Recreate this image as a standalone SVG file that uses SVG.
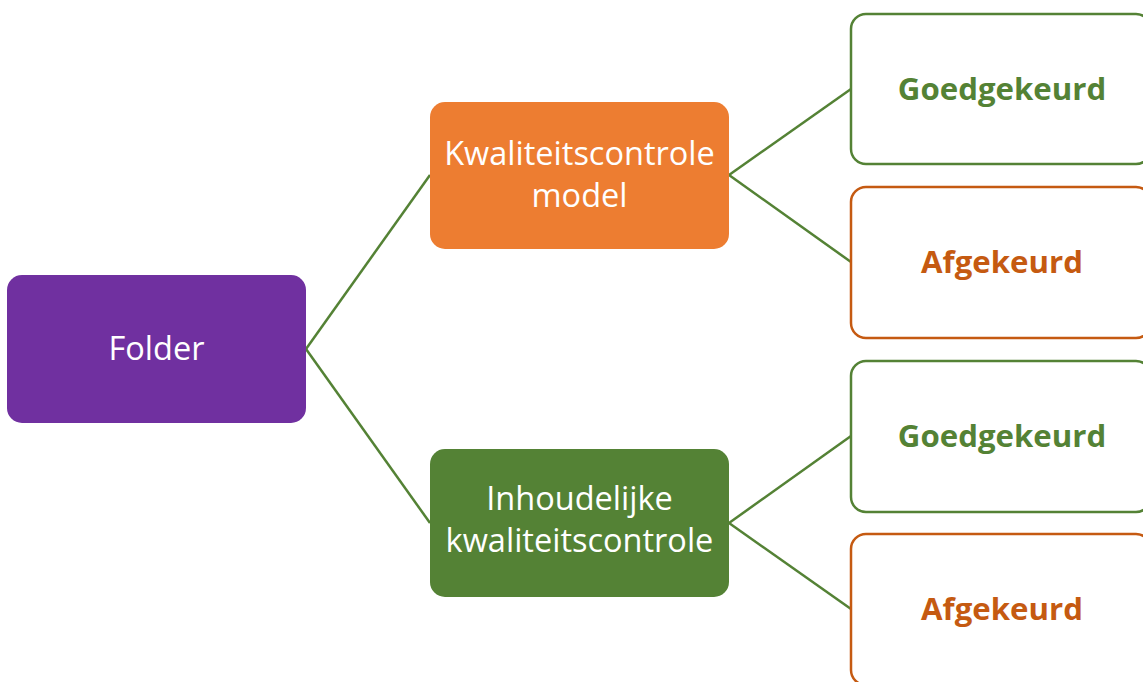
<svg xmlns="http://www.w3.org/2000/svg" width="1143" height="682" viewBox="0 0 1143 682">
<style>
.lbl{font-family:"Open Sans","Noto Sans","DejaVu Sans",sans-serif;font-size:32.5px;fill:#fff;text-anchor:middle}
.res{font-family:"Open Sans","Noto Sans","DejaVu Sans",sans-serif;font-size:31.2px;font-weight:bold;text-anchor:middle}
.ok{fill:#fff;stroke:#548235;stroke-width:2.5}
.nok{fill:#fff;stroke:#C55A11;stroke-width:2.5}
.conn line{stroke:#548235;stroke-width:2.5}
</style>
<rect width="1143" height="682" fill="#fff"/>
<g class="conn" id="connectors">
<line x1="306" y1="349" x2="430" y2="175"/>
<line x1="306" y1="349" x2="430" y2="523"/>
<line x1="729" y1="175" x2="851" y2="89"/>
<line x1="729" y1="175" x2="851" y2="262"/>
<line x1="729" y1="523" x2="851" y2="436"/>
<line x1="729" y1="523" x2="851" y2="609"/>
</g>
<g id="folder">
<rect x="7" y="275" width="299" height="148" rx="15" fill="#7030A0"/>
<text class="lbl" x="156.5" y="360">Folder</text>
</g>
<g id="kwaliteitscontrole-model">
<rect x="430" y="102" width="299" height="147" rx="15" fill="#ED7D31"/>
<text class="lbl" x="579.5" y="165">Kwaliteitscontrole</text>
<text class="lbl" x="579.5" y="207">model</text>
</g>
<g id="inhoudelijke">
<rect x="430" y="449" width="299" height="148" rx="15" fill="#548235"/>
<text class="lbl" x="579.5" y="510">Inhoudelijke</text>
<text class="lbl" x="579.5" y="552">kwaliteitscontrole</text>
</g>
<g id="goed1">
<rect class="ok" x="851" y="14" width="300" height="150" rx="15"/>
<text class="res" x="1002" y="100" fill="#548235">Goedgekeurd</text>
</g>
<g id="af1">
<rect class="nok" x="851" y="187" width="300" height="151" rx="15"/>
<text class="res" x="1002" y="273" fill="#C55A11">Afgekeurd</text>
</g>
<g id="goed2">
<rect class="ok" x="851" y="361" width="300" height="151" rx="15"/>
<text class="res" x="1002" y="447" fill="#548235">Goedgekeurd</text>
</g>
<g id="af2">
<rect class="nok" x="851" y="534" width="300" height="151" rx="15"/>
<text class="res" x="1002" y="620" fill="#C55A11">Afgekeurd</text>
</g>
</svg>
